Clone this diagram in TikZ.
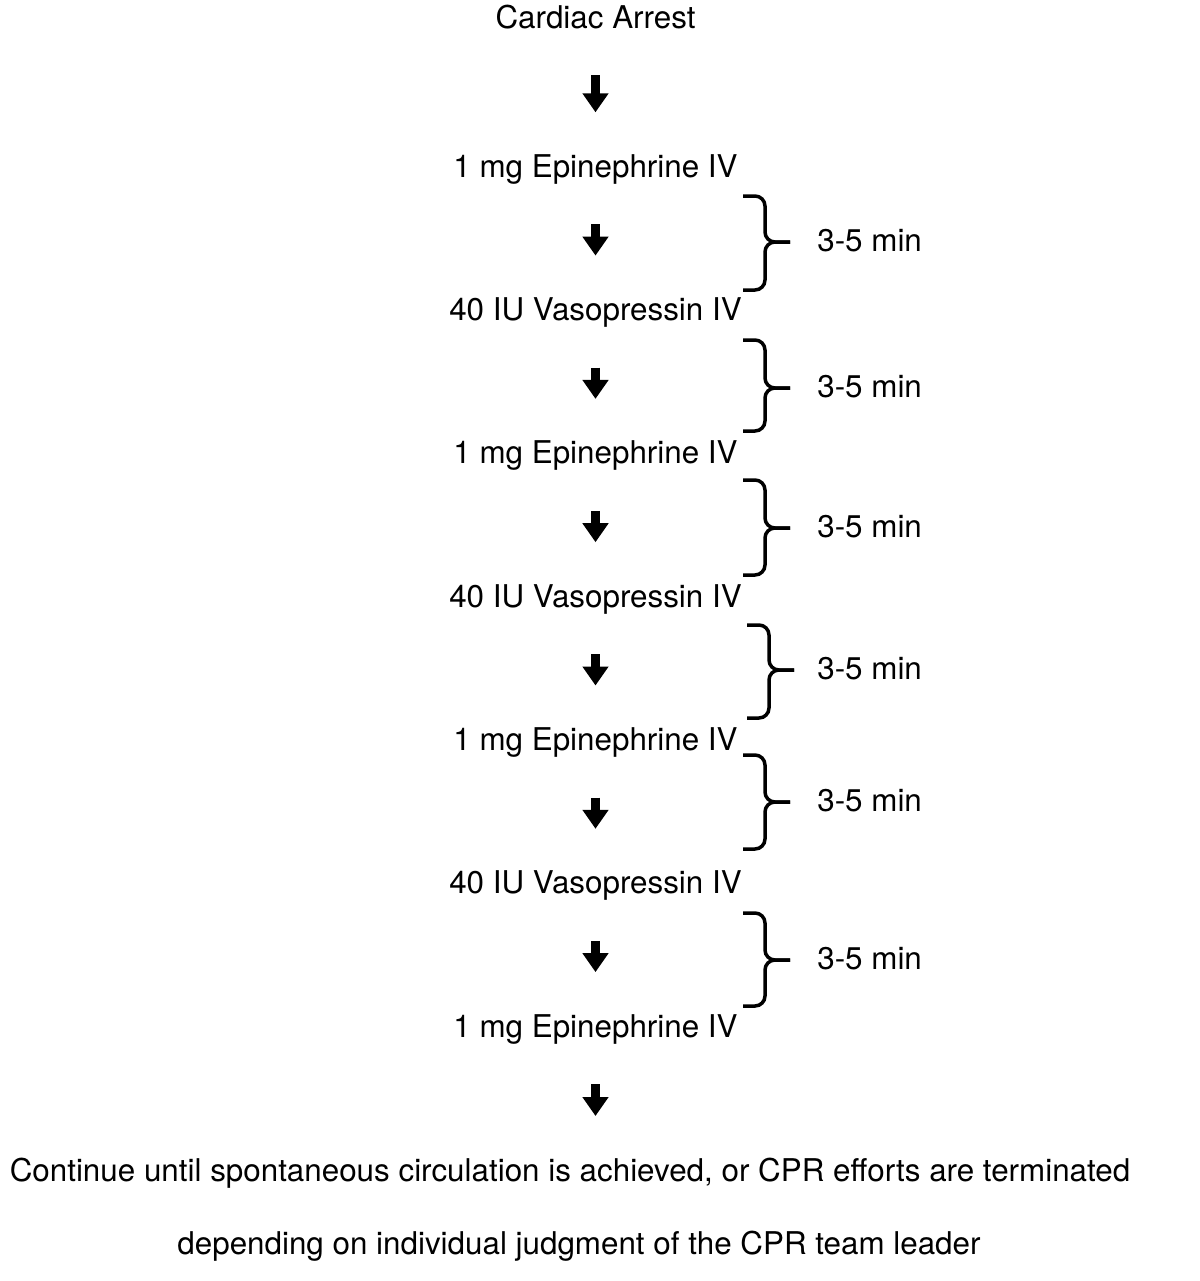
\documentclass[tikz,border=0pt]{standalone}
\usepackage{fontspec}
\setmainfont{TeX Gyre Heros}
\usetikzlibrary{arrows.meta}
\tikzset{every node/.style={inner sep=0pt,text height=1.03em,text depth=0pt}}
\tikzset{arr/.style={line width=0.17cm,-{Triangle[width=0.5cm,length=0.38cm]},shorten <=1.12cm,shorten >=1.12cm}}
\tikzset{br/.style={line width=0.07cm,rounded corners=0.2cm}}

\begin{document}
\begin{tikzpicture}[font=\fontsize{17.85pt}{21pt}\selectfont]
      \useasboundingbox (0,0) rectangle (24,-25.62);
      \node (A) at (11.91,-0.38) {Cardiac Arrest};
      \node (E1) at (11.91,-3.366) {1 mg Epinephrine IV};
      \node (V1) at (11.91,-6.232) {40 IU Vasopressin IV};
      \node (E2) at (11.91,-9.098) {1 mg Epinephrine IV};
      \node (V2) at (11.91,-11.964) {40 IU Vasopressin IV};
      \node (E3) at (11.91,-14.83) {1 mg Epinephrine IV};
      \node (V3) at (11.91,-17.696) {40 IU Vasopressin IV};
      \node (E4) at (11.91,-20.562) {1 mg Epinephrine IV};
      \node (C) at (11.40,-23.44) {Continue until spontaneous circulation is achieved, or CPR efforts are terminated};
      \node (D) at (11.58,-24.90) {depending on individual judgment of the CPR team leader};
      \coordinate (c) at (E4 |- C);
      \foreach \a/\b in {A/E1,E1/V1,V1/E2,E2/V2,V2/E3,E3/V3,V3/E4,E4/c}
        \draw[arr] (\a.center) -- (\b.center);

      % braces and intervals
      \foreach \t/\m/\b/\x [count=\i] in {-3.92/-4.84/-5.80/14.86,-6.80/-7.76/-8.62/14.86,
          -9.60/-10.56/-11.50/14.86,-12.50/-13.40/-14.36/14.94,
          -15.10/-16.04/-16.98/14.86,-18.26/-19.20/-20.12/14.86} {
        \draw[br] (\x,\t) -- (\x+0.44,\t) -- (\x+0.44,\m) -- (\x+0.94,\m);
        \draw[br] (\x,\b) -- (\x+0.44,\b) -- (\x+0.44,\m) -- (\x+0.94,\m);
        \node[anchor=west] (L\i) at (16.34,\m) {3-5 min};
      }
    \end{tikzpicture}
\end{document}
